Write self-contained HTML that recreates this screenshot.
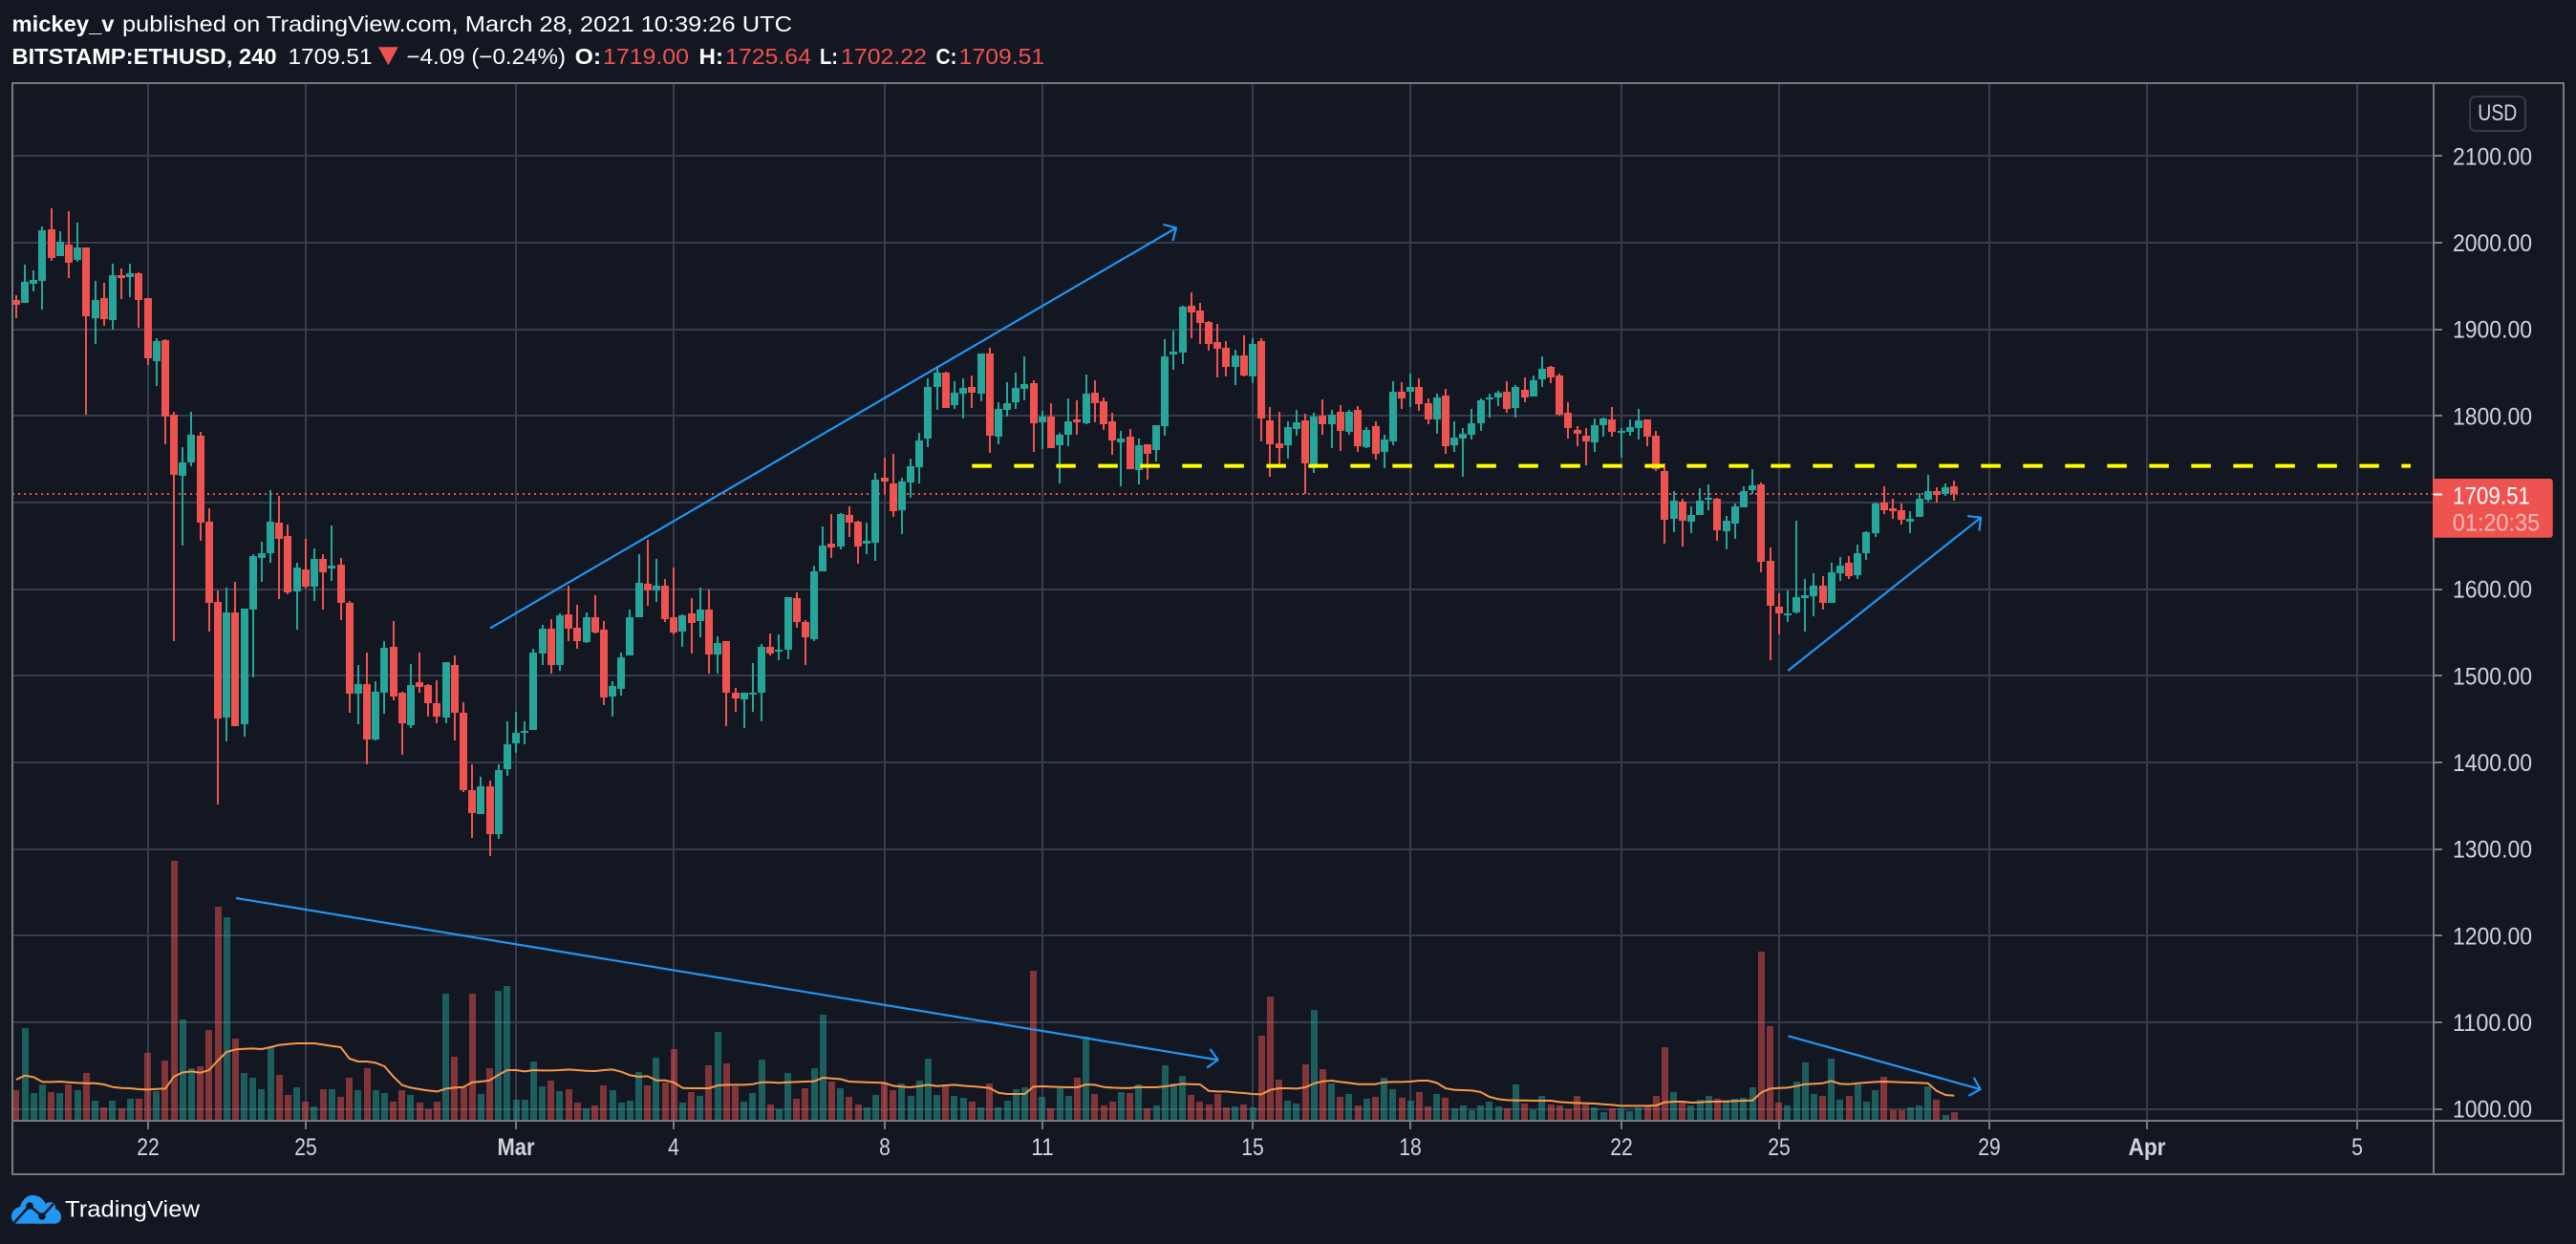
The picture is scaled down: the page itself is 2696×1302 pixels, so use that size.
<!DOCTYPE html>
<html lang="en">
<head>
<meta charset="utf-8">
<title>BITSTAMP:ETHUSD 240 chart</title>
<style>
html,body{margin:0;padding:0;background:#131722;width:2696px;height:1302px;overflow:hidden}
svg{display:block}
text{font-family:"Liberation Sans",sans-serif}
</style>
</head>
<body>
<svg id="chart" xmlns="http://www.w3.org/2000/svg" width="2696" height="1302" viewBox="0 0 2696 1302">
  <defs>
    <clipPath id="pane-clip"><rect x="13" y="88" width="2534" height="1085"/></clipPath>
  </defs>
  <rect x="0" y="0" width="2696" height="1302" fill="#131722"/>

  <g fill="#ffffff" font-size="23">
    <text x="12.5" y="33" font-weight="bold" textLength="107" lengthAdjust="spacingAndGlyphs">mickey_v</text>
    <text x="128" y="33" textLength="701" lengthAdjust="spacingAndGlyphs">published on TradingView.com, March 28, 2021 10:39:26 UTC</text>
  </g>
  <g fill="#ffffff" font-size="23">
    <text x="12.5" y="67" font-weight="bold" textLength="277" lengthAdjust="spacingAndGlyphs">BITSTAMP:ETHUSD, 240</text>
    <text x="301.5" y="67" textLength="88" lengthAdjust="spacingAndGlyphs">1709.51</text>
    <polygon points="396,49.3 416.7,49.3 406.4,68.3" fill="#ef5350"/>
    <text x="425.5" y="67" textLength="166.5" lengthAdjust="spacingAndGlyphs">−4.09 (−0.24%)</text>
    <text x="601.6" y="67" font-weight="bold" textLength="27.5" lengthAdjust="spacingAndGlyphs">O:</text>
    <text x="631" y="67" fill="#ef5350" textLength="90" lengthAdjust="spacingAndGlyphs">1719.00</text>
    <text x="731.5" y="67" font-weight="bold" textLength="25.5" lengthAdjust="spacingAndGlyphs">H:</text>
    <text x="759" y="67" fill="#ef5350" textLength="90" lengthAdjust="spacingAndGlyphs">1725.64</text>
    <text x="858" y="67" font-weight="bold" textLength="19" lengthAdjust="spacingAndGlyphs">L:</text>
    <text x="880" y="67" fill="#ef5350" textLength="90" lengthAdjust="spacingAndGlyphs">1702.22</text>
    <text x="979.5" y="67" font-weight="bold" textLength="22" lengthAdjust="spacingAndGlyphs">C:</text>
    <text x="1003.7" y="67" fill="#ef5350" textLength="89.5" lengthAdjust="spacingAndGlyphs">1709.51</text>
  </g>

  <g id="grid" shape-rendering="crispEdges"></g>
  <g id="pane" clip-path="url(#pane-clip)">
    <g id="volume-bars" shape-rendering="crispEdges"></g>
    <path id="volume-ma" fill="none" stroke="#f7994a" stroke-width="2" stroke-linejoin="round"/>
    <line id="price-line" stroke="#ef5350" stroke-width="2" stroke-dasharray="2 4" shape-rendering="crispEdges"/>
    <g id="candles" shape-rendering="crispEdges"></g>
  </g>
  <line id="level-line" stroke="#ffff00" stroke-width="4" stroke-dasharray="20.5 23.5"/>
  <g id="trendlines" fill="none" stroke="#2196f3" stroke-width="2.2" stroke-linejoin="round" stroke-linecap="butt"></g>

  <g fill="#7a7a7a" shape-rendering="crispEdges">
    <rect x="12" y="86" width="2672" height="2"/>
    <rect x="12" y="86" width="2" height="1144"/>
    <rect x="2682" y="86" width="2" height="1144"/>
    <rect x="12" y="1228" width="2672" height="2"/>
    <rect x="2546" y="86" width="2" height="1144"/>
    <rect x="12" y="1172" width="2672" height="2"/>
  </g>
  <g id="price-axis"></g>
  <g id="time-axis"></g>

  <g>
    <rect x="2585" y="101" width="58" height="36" rx="6" ry="6" fill="#131722" stroke="#363a45" stroke-width="2"/>
    <text x="2593.3" y="126" font-size="24" fill="#d1d4dc" textLength="41" lengthAdjust="spacingAndGlyphs">USD</text>
  </g>

  <g>
    <path d="M2546,501 H2668.7 a3,3 0 0 1 3,3 V559.7 a3,3 0 0 1 -3,3 H2546 Z" fill="#ef5350"/>
    <rect x="2547" y="516.5" width="9" height="2" fill="#ffffff" shape-rendering="crispEdges"/>
    <text x="2567" y="527.7" font-size="25" fill="#ffffff" textLength="81" lengthAdjust="spacingAndGlyphs">1709.51</text>
    <text x="2566.7" y="555.7" font-size="25" fill="#ffffff" fill-opacity="0.6" textLength="91.5" lengthAdjust="spacingAndGlyphs">01:20:35</text>
  </g>

  <g>
    <path d="M18,1280.7 C13.5,1280.7 12,1276.5 12,1273 C12,1268 16,1264 21,1263 C23,1256 28,1251 34,1251 C41,1251 46,1255 47.5,1260 C50,1258 54,1257.5 56.5,1259.5 C58,1261.5 58.5,1263.5 58,1265.5 C62,1266.5 64,1270 64,1274 C64,1278 61,1280.7 57,1280.7 Z" fill="#2196f3"/>
    <polyline points="15,1279.5 31,1262 44,1273 56,1260" fill="none" stroke="#131722" stroke-width="2.5"/>
    <circle cx="31" cy="1262" r="3.8" fill="#131722"/>
    <circle cx="44" cy="1273" r="3.8" fill="#131722"/>
    <text x="68" y="1273.5" font-size="24" fill="#ffffff" textLength="141" lengthAdjust="spacingAndGlyphs">TradingView</text>
  </g>
</svg>

<script>
const openPrices = [1934,1931,1953,1956,2015,1985,1998,1980,1994,1913,1936,1911,1962,1960,1965,1936,1863,1888,1801,1731,1746,1777,1678,1585,1452,1573,1444,1577,1636,1642,1677,1661,1597,1623,1603,1635,1624,1628,1584,1479,1491,1426,1481,1534,1480,1443,1493,1489,1468,1452,1513,1457,1368,1341,1372,1317,1392,1422,1434,1437,1526,1554,1512,1571,1555,1539,1568,1553,1476,1485,1523,1568,1606,1599,1604,1568,1551,1572,1563,1577,1525,1540,1480,1473,1479,1480,1534,1528,1530,1590,1562,1542,1621,1653,1649,1686,1678,1653,1654,1729,1722,1691,1723,1741,1774,1834,1850,1813,1826,1834,1826,1872,1776,1807,1816,1831,1838,1793,1799,1766,1778,1796,1792,1827,1817,1794,1770,1776,1738,1767,1761,1788,1871,1873,1927,1922,1908,1885,1879,1857,1870,1846,1886,1795,1768,1766,1785,1795,1743,1800,1790,1805,1782,1807,1764,1788,1758,1771,1828,1828,1833,1815,1796,1824,1766,1774,1778,1792,1819,1821,1828,1809,1830,1822,1842,1857,1847,1804,1784,1777,1769,1789,1796,1782,1782,1786,1796,1777,1736,1681,1701,1678,1686,1703,1704,1667,1676,1694,1714,1721,1633,1580,1570,1573,1590,1592,1604,1584,1618,1630,1616,1642,1665,1700,1693,1691,1678,1683,1703,1713,1710,1719];
const highPrices = [1939,1975,1968,2019,2040,2013,2036,2023,1995,1956,1954,1976,1970,1976,1966,1936,1890,1889,1805,1764,1805,1782,1693,1599,1602,1608,1578,1641,1655,1714,1708,1675,1631,1658,1647,1640,1673,1636,1586,1513,1527,1494,1540,1563,1482,1514,1527,1491,1495,1516,1523,1470,1398,1384,1379,1398,1447,1459,1447,1531,1559,1566,1572,1604,1582,1573,1593,1563,1494,1527,1577,1640,1657,1635,1612,1625,1571,1590,1602,1600,1546,1540,1486,1480,1515,1537,1549,1548,1591,1596,1564,1627,1672,1687,1688,1696,1679,1677,1734,1752,1756,1729,1751,1780,1843,1858,1851,1840,1843,1847,1872,1879,1816,1839,1850,1869,1841,1806,1815,1781,1820,1818,1848,1841,1821,1804,1783,1785,1774,1767,1789,1889,1899,1927,1943,1931,1910,1906,1886,1876,1893,1890,1890,1810,1805,1794,1807,1803,1804,1819,1807,1812,1807,1811,1787,1794,1778,1840,1839,1849,1843,1820,1826,1831,1794,1786,1808,1820,1826,1829,1840,1836,1844,1847,1869,1858,1849,1816,1788,1786,1797,1798,1810,1786,1796,1808,1796,1783,1745,1713,1704,1696,1717,1721,1706,1685,1699,1719,1739,1723,1648,1595,1599,1679,1612,1618,1615,1630,1637,1638,1651,1667,1700,1719,1704,1699,1690,1711,1732,1718,1722,1725.64];
const lowPrices = [1913,1931,1944,1923,1979,1985,1959,1978,1801,1883,1904,1900,1935,1937,1902,1859,1835,1767,1540,1650,1742,1656,1551,1352,1424,1442,1430,1498,1608,1631,1589,1594,1553,1601,1586,1577,1610,1564,1457,1444,1398,1425,1456,1472,1409,1440,1480,1453,1445,1445,1425,1366,1313,1341,1292,1312,1385,1411,1421,1437,1512,1503,1506,1540,1531,1538,1549,1466,1453,1477,1523,1568,1581,1585,1562,1548,1534,1526,1545,1503,1503,1442,1458,1440,1458,1447,1523,1518,1519,1555,1512,1540,1621,1636,1646,1660,1629,1640,1633,1709,1683,1664,1705,1722,1764,1807,1809,1808,1797,1809,1817,1757,1767,1799,1808,1818,1758,1762,1763,1722,1765,1778,1790,1793,1784,1755,1719,1739,1721,1726,1747,1777,1853,1860,1890,1883,1875,1844,1846,1836,1846,1838,1771,1730,1743,1751,1777,1710,1734,1778,1763,1760,1778,1758,1763,1750,1740,1766,1808,1810,1806,1790,1779,1756,1758,1730,1773,1783,1798,1811,1804,1798,1816,1822,1833,1838,1800,1774,1765,1743,1758,1776,1776,1752,1777,1773,1765,1736,1653,1666,1649,1665,1686,1691,1656,1646,1658,1694,1710,1619,1518,1548,1562,1572,1551,1569,1576,1584,1610,1612,1612,1634,1660,1687,1681,1675,1665,1683,1701,1700,1708,1702.22];
const closePrices = [1928,1955,1957,2014,1982,2001,1977,1995,1915,1934,1912,1963,1959,1965,1934,1867,1886,1799,1732,1746,1778,1677,1584,1451,1573,1442,1578,1638,1642,1678,1658,1596,1625,1603,1635,1619,1627,1584,1479,1490,1426,1482,1532,1476,1445,1489,1487,1468,1453,1516,1457,1368,1342,1372,1317,1391,1421,1434,1436,1527,1554,1512,1570,1554,1540,1568,1550,1475,1488,1521,1568,1607,1599,1604,1566,1550,1570,1561,1577,1525,1538,1480,1474,1480,1480,1534,1526,1530,1591,1562,1545,1621,1650,1648,1687,1677,1649,1656,1726,1724,1690,1724,1742,1772,1834,1850,1809,1827,1832,1827,1872,1777,1808,1815,1832,1837,1792,1799,1763,1778,1794,1793,1826,1815,1790,1772,1774,1739,1766,1756,1789,1869,1874,1926,1919,1907,1883,1878,1857,1870,1847,1883,1797,1767,1763,1787,1793,1745,1799,1790,1801,1783,1805,1765,1784,1756,1773,1828,1820,1833,1814,1796,1821,1765,1775,1779,1792,1818,1821,1827,1808,1833,1821,1841,1854,1844,1801,1786,1779,1771,1789,1797,1782,1783,1787,1795,1776,1739,1680,1702,1679,1686,1702,1706,1668,1679,1696,1713,1720,1632,1581,1572,1572,1591,1593,1604,1584,1619,1627,1615,1642,1666,1699,1691,1690,1680,1681,1704,1713,1709,1718,1709.51];
const volumes = [92,287,83,110,86,83,110,92,146,59,38,59,35,65,65,209,89,185,812,314,161,167,281,668,635,254,146,131,95,227,140,77,101,56,41,95,95,71,131,92,161,92,83,56,92,77,53,32,56,395,197,101,395,80,161,404,419,62,62,182,104,122,89,95,53,35,44,107,92,53,59,149,107,194,116,221,53,86,74,170,275,176,104,56,83,188,47,32,146,65,98,161,329,119,98,71,47,38,77,115,92,113,74,122,191,77,104,74,68,56,38,113,38,59,95,101,467,71,35,98,74,131,260,80,44,56,86,83,110,35,44,170,113,137,77,56,47,80,38,41,47,38,263,386,125,59,50,173,344,158,113,71,80,44,65,71,131,95,68,59,86,41,80,68,35,44,29,44,56,41,35,110,50,29,74,47,44,32,74,47,38,23,35,35,26,38,41,74,227,86,59,44,62,74,65,56,65,68,101,527,293,53,44,119,179,80,74,191,62,74,110,56,92,134,29,29,38,44,104,62,14,23];
const volumeMA = [125,138,133,118,118,119,117,115,114,114,110,102,99,98,95,94,96,97,135,148,151,147,155,185,212,220,222,223,221,227,234,237,239,239,239,235,231,227,191,182,182,178,167,135,108,100,95,91,88,97,100,102,117,119,123,140,155,155,151,155,154,154,155,157,155,153,152,155,157,150,139,134,136,123,123,116,99,98,98,98,107,109,109,109,111,117,117,115,117,118,119,120,131,129,127,119,118,117,116,115,106,103,101,105,109,105,107,109,106,104,102,99,84,80,80,80,103,104,103,102,101,101,110,109,102,100,99,99,102,101,101,104,108,112,111,110,90,88,88,85,83,80,79,93,98,98,97,101,113,120,122,118,115,111,111,111,117,118,118,119,122,122,115,98,93,92,91,86,71,64,61,60,60,59,59,59,55,53,52,51,50,48,46,43,43,43,43,44,54,56,56,53,54,56,56,57,58,59,60,85,97,99,100,105,111,112,114,121,112,111,114,116,118,119,118,117,116,115,114,90,77,75];
const priceTicks = [2100,2000,1900,1800,1700,1600,1500,1400,1300,1200,1100,1000];
const dateTickLabels = ['22','25','Mar','4','8','11','15','18','22','25','29','Apr','5'];
const dateTickDates = ['2021-02-22','2021-02-25','2021-03-01','2021-03-04','2021-03-08','2021-03-11','2021-03-15','2021-03-18','2021-03-22','2021-03-25','2021-03-29','2021-04-01','2021-04-05'];
const lastPrice = 1709.51;
const levelPrice = 1742.3;
const levelBarStart = 109.0;
const levelBarEnd = 273.05;
const trendBarStart = [54.05,25.06,202.04,202.06];
const trendPriceStart = [1554.9,1243.4,1505.9,1084.3];
const trendBarEnd = [132.28,137.03,224.03,223.98];
const trendPriceEnd = [2017.1,1056.7,1682.7,1022.8];

const NS = 'http://www.w3.org/2000/svg';
const firstBarTime = Date.UTC(2021, 1, 19, 12);
const barMs = 4 * 3600 * 1000;
function xOf(bar) { return 16.93 + 9.178 * bar; }
function yOf(price) { return 1160.7 - (price - 1000) * 0.9067; }
function volY(vol) { return 1171.7 - vol / 3; }
function barOfDate(d) { return (Date.parse(d + 'T00:00:00Z') - firstBarTime) / barMs; }
function make(tag, parent) {
  const el = document.createElementNS(NS, tag);
  parent.appendChild(el);
  return el;
}
function setRect(el, x, y, w, h, fill) {
  el.setAttribute('x', x);
  el.setAttribute('y', y);
  el.setAttribute('width', w);
  el.setAttribute('height', h);
  el.setAttribute('fill', fill);
}

const grid = document.getElementById('grid');
const priceAxis = document.getElementById('price-axis');
const timeAxis = document.getElementById('time-axis');

priceTicks.forEach(function (p) {
  const y = Math.round(yOf(p) - 1);
  const line = make('rect', grid);
  
  
  setRect(line, 13, y, 2534, 2, '#363c4e');
  const tick = make('rect', priceAxis);
  
  
  tick.setAttribute('shape-rendering', 'crispEdges');
  setRect(tick, 2547, y, 9, 2, '#7a7a7a');
  const label = make('text', priceAxis);
  
  
  label.setAttribute('x', 2567);
  label.setAttribute('y', yOf(p) + 9);
  label.setAttribute('font-size', '25');
  label.setAttribute('fill', '#d1d4dc');
  label.setAttribute('textLength', '83');
  label.setAttribute('lengthAdjust', 'spacingAndGlyphs');
  label.textContent = p.toFixed(2);
});

dateTickDates.forEach(function (d, k) {
  const x = Math.round(xOf(barOfDate(d)) - 1);
  const line = make('rect', grid);
  
  
  setRect(line, x, 88, 2, 1085, '#363c4e');
  const tick = make('rect', timeAxis);
  
  
  tick.setAttribute('shape-rendering', 'crispEdges');
  setRect(tick, x, 1173, 2, 9, '#7a7a7a');
  const text = dateTickLabels[k];
  const isMonth = /[A-Za-z]/.test(text);
  const width = isMonth ? 39 : text.length * 11.75;
  const label = make('text', timeAxis);
  
  
  label.setAttribute('x', x + 1 - width / 2);
  label.setAttribute('y', 1209);
  label.setAttribute('font-size', '25');
  label.setAttribute('fill', '#d1d4dc');
  if (isMonth) { label.setAttribute('font-weight', 'bold'); }
  label.setAttribute('textLength', width);
  label.setAttribute('lengthAdjust', 'spacingAndGlyphs');
  label.textContent = text;
});

const volumeGroup = document.getElementById('volume-bars');
volumes.forEach(function (v, i) {
  const up = closePrices[i] >= openPrices[i];
  const bar = make('rect', volumeGroup);
  
  
  const top = Math.round(volY(v));
  setRect(bar, Math.round(xOf(i) - 3.5), top, 7, 1172 - top, up ? '#26a69a' : '#ef5350');
  bar.setAttribute('fill-opacity', '0.5');
});

document.getElementById('volume-ma').setAttribute('d', volumeMA.map(function (v, i) {
  return (i ? 'L' : 'M') + xOf(i).toFixed(1) + ',' + volY(v).toFixed(1);
}).join(''));

const priceLine = document.getElementById('price-line');
priceLine.setAttribute('x1', 13);
priceLine.setAttribute('x2', 2547);
priceLine.setAttribute('y1', Math.round(yOf(lastPrice)));
priceLine.setAttribute('y2', Math.round(yOf(lastPrice)));

const candleGroup = document.getElementById('candles');
openPrices.forEach(function (o, i) {
  const c = closePrices[i];
  const color = c >= o ? '#26a69a' : '#ef5350';
  const cx = Math.round(xOf(i));
  const hiY = Math.round(yOf(highPrices[i]));
  const loY = Math.round(yOf(lowPrices[i]));
  const wick = make('rect', candleGroup);
  
  
  setRect(wick, cx - 1, hiY, 2, Math.max(2, loY - hiY), color);
  const topY = Math.round(yOf(Math.max(o, c)));
  const botY = Math.round(yOf(Math.min(o, c)));
  const body = make('rect', candleGroup);
  
  
  setRect(body, cx - 4, topY, 8, Math.max(2, botY - topY), color);
});

const levelLine = document.getElementById('level-line');
levelLine.setAttribute('x1', xOf(levelBarStart));
levelLine.setAttribute('x2', xOf(levelBarEnd));
levelLine.setAttribute('y1', yOf(levelPrice));
levelLine.setAttribute('y2', yOf(levelPrice));

const trendGroup = document.getElementById('trendlines');
trendBarStart.forEach(function (b, k) {
  const x1 = xOf(b);
  const y1 = yOf(trendPriceStart[k]);
  const x2 = xOf(trendBarEnd[k]);
  const y2 = yOf(trendPriceEnd[k]);
  const ang = Math.atan2(y1 - y2, x1 - x2);
  const len = 14;
  const ax = x2 + len * Math.cos(ang + Math.PI / 4);
  const ay = y2 + len * Math.sin(ang + Math.PI / 4);
  const bx = x2 + len * Math.cos(ang - Math.PI / 4);
  const by = y2 + len * Math.sin(ang - Math.PI / 4);
  const arrow = make('path', trendGroup);
  
  
  arrow.setAttribute('d', 'M' + x1 + ',' + y1 + 'L' + x2 + ',' + y2 + 'M' + ax + ',' + ay + 'L' + x2 + ',' + y2 + 'L' + bx + ',' + by);
});
</script>
</body>
</html>
